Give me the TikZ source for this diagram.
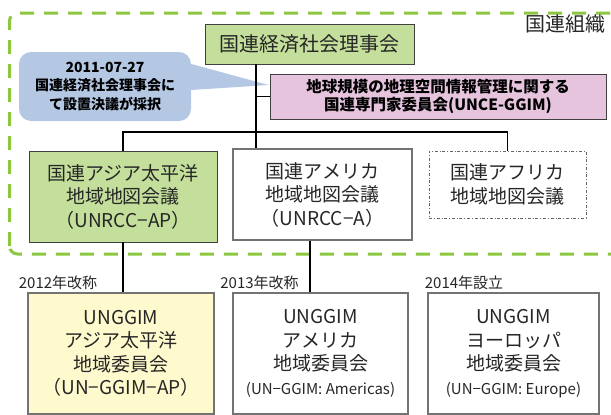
\documentclass[tikz,border=0pt]{standalone}
\usepackage{fontspec}
\setmainfont{Noto Sans CJK JP}
\definecolor{boxgreen}{RGB}{196,223,155}
\definecolor{boxpink}{RGB}{230,196,222}
\definecolor{noteblue}{RGB}{180,200,228}
\definecolor{boxyellow}{RGB}{255,250,205}
\definecolor{framegreen}{RGB}{141,198,63}
\tikzset{
  unframe/.style={draw=framegreen, line width=3pt, dash pattern=on 14pt off 10pt},
  orgbox/.style={draw=black!75, line width=0.8pt, inner sep=0pt, align=center,
    text=black!85, font=\fontsize{19}{23.5}\selectfont},
  notebox/.style={fill=noteblue, rounded corners=12pt, inner sep=0pt, align=center,
    font=\bfseries\fontsize{14}{18.5}\selectfont},
  yearlabel/.style={inner sep=0pt, text=black!85, font=\fontsize{15}{18}\selectfont},
  link/.style={draw=black, line width=1.1pt}
}
\begin{document}
\begin{tikzpicture}[x=1pt,y=-1pt]
    \useasboundingbox (0,0) rectangle (611,415);
    \clip (0,0) rectangle (611,415);
    % UN frame
    \draw[unframe, rounded corners=8pt] (9.5,254) -- (9.5,13) -- (660,13) -- (660,254) -- cycle;
    \node[yearlabel, font=\fontsize{20}{24}\selectfont] (untitle) at (565,24) {国連組織};
    % top level
    \node[orgbox, fill=boxgreen, minimum width=209pt, minimum height=40pt,
      font=\fontsize{20}{24}\selectfont] (ecosoc) at (309.5,44) {国連経済社会理事会};
    \node[orgbox, fill=boxpink, minimum width=336pt, minimum height=45pt, text=black,
      font=\bfseries\fontsize{15.5}{18}\selectfont] (unce) at (438,96.5)
      {地球規模の地理空間情報管理に関する\\国連専門家委員会(UNCE-GGIM)};
    \node[notebox, minimum width=172pt, minimum height=69pt] (note) at (105,86.5)
      {2011-07-27\\国連経済社会理事会に\\て設置決議が採択};
    \coordinate (tip) at ([xshift=-1pt,yshift=11.5pt]unce.west);
    \fill[noteblue] ([xshift=-8pt,yshift=-10pt]note.north east) -- (tip) -- ([yshift=-3.5pt]note.east) -- cycle;
    % regional cartographic conferences
    \node[orgbox, fill=boxgreen, minimum width=188pt, minimum height=91pt] (rccap) at (123,196.5)
      {国連アジア太平洋\\地域地図会議\\（UNRCC−AP）};
    \node[orgbox, draw=black!55, line width=1.3pt, minimum width=179pt, minimum height=91pt] (rcca) at (322.5,194.5)
      {国連アメリカ\\地域地図会議\\（UNRCC−A）};
    \node[orgbox, draw=black!60, line width=0.6pt, dash dot, minimum width=157pt, minimum height=67pt] (rccaf) at (507.5,184.5)
      {国連アフリカ\\地域地図会議};
    % UN-GGIM regional committees
    \node[yearlabel] (ren12) at (58,283) {2012年改称};
    \node[yearlabel] (ren13) at (259.5,283) {2013年改称};
    \node[yearlabel] (est14) at (464,283) {2014年設立};
    \node[orgbox, fill=boxyellow, draw=black!55, line width=1.1pt, minimum width=186pt, minimum height=121pt] (ggap) at (121,353.5)
      {UNGGIM\\アジア太平洋\\地域委員会\\（UN−GGIM−AP）};
    \node[orgbox, draw=black!55, line width=1.1pt, minimum width=175pt, minimum height=121pt] (ggam) at (320.5,353.5)
      {UNGGIM\\アメリカ\\地域委員会\\{\fontsize{15}{18}\selectfont (UN−GGIM: Americas)}};
    \node[orgbox, draw=black!55, line width=1.1pt, minimum width=171pt, minimum height=121pt] (ggeu) at (513.5,353.5)
      {UNGGIM\\ヨーロッパ\\地域委員会\\{\fontsize{15}{18}\selectfont (UN−GGIM: Europe)}};
    % connectors
    \coordinate (hub) at (256,132);
    \draw[link] (ecosoc.south -| hub) -- (hub);
    \draw[link] (unce.west) -- (unce.west -| hub);
    \draw[link] (rccap.north) -- (rccap.north |- hub) -- (rccaf.north |- hub) -- (rccaf.north);
    \draw[link] (hub) -- (hub |- rcca.north);
    \draw[link] (rccap.south) -- (rccap.south |- ggap.north);
    \coordinate (amdrop) at ([xshift=-12.5pt]rcca.south);
    \draw[link] (amdrop) -- (amdrop |- ggam.north);
\end{tikzpicture}
\end{document}
